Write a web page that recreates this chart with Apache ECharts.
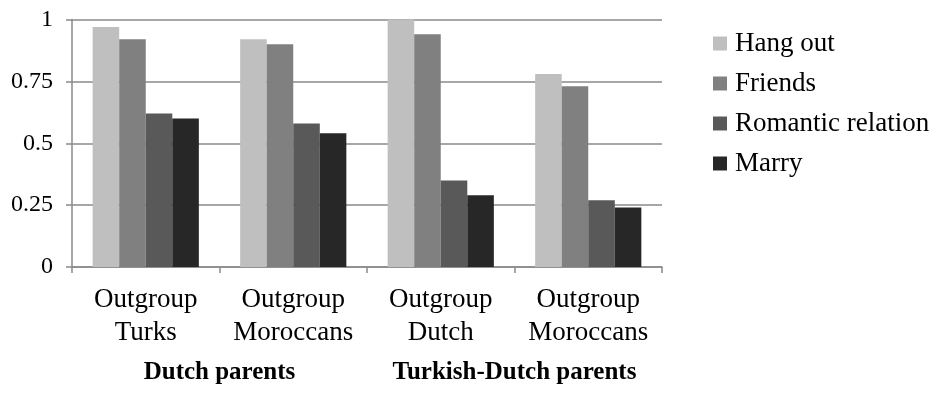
<!DOCTYPE html>
<html>
<head>
<meta charset="utf-8">
<script src="https://cdn.jsdelivr.net/npm/echarts@6/dist/echarts.min.js"></script>
<style>
  html, body { margin: 0; padding: 0; background: #fff; }
  #chart { width: 935px; height: 395px; }
</style>
</head>
<body>
<div id="chart"></div>
<script>
// Outgroup categories, grouped by parent background
const categories = ['Outgroup\nTurks', 'Outgroup\nMoroccans', 'Outgroup\nDutch', 'Outgroup\nMoroccans'];
const parentGroups = ['Dutch parents', 'Turkish-Dutch parents'];

const seriesNames = ['Hang out', 'Friends', 'Romantic relation', 'Marry'];
const hangOut = [0.97, 0.92, 1.00, 0.78];
const friends = [0.92, 0.90, 0.94, 0.73];
const romantic = [0.62, 0.58, 0.35, 0.27];
const marry = [0.60, 0.54, 0.29, 0.24];
const seriesValues = [hangOut, friends, romantic, marry];
const seriesColors = ['#bfbfbf', '#808080', '#595959', '#272727'];

const yTicks = [0, 0.25, 0.5, 0.75, 1];

const font = '"Liberation Serif", "Times New Roman", serif';
const gridColor = '#8a8a8a';

const chart = echarts.init(document.getElementById('chart'), null, { renderer: 'canvas' });

chart.setOption({
  animation: false,
  backgroundColor: '#ffffff',
  textStyle: { fontFamily: font, color: '#000' },
  grid: { left: 72, right: 273, top: 19.5, bottom: 128 },
  legend: {
    orient: 'vertical',
    left: 708,
    top: 25,
    itemWidth: 14,
    itemHeight: 14,
    itemGap: 13,
    icon: 'rect',
    textStyle: { fontFamily: font, fontSize: 27, color: '#000', padding: [0, 0, 0, 3] },
    data: seriesNames
  },
  xAxis: [
    {
      type: 'category',
      data: categories,
      position: 'bottom',
      axisLine: { show: true, lineStyle: { color: gridColor, width: 1.5 } },
      axisTick: { show: true, length: 6, lineStyle: { color: gridColor, width: 1.5 } },
      axisLabel: {
        fontFamily: font, fontSize: 27, color: '#000',
        lineHeight: 33, margin: 16, interval: 0
      }
    },
    {
      type: 'category',
      data: parentGroups,
      position: 'bottom',
      offset: 85,
      axisLine: { show: false },
      axisTick: { show: false },
      axisLabel: {
        fontFamily: font, fontSize: 25, fontWeight: 'bold', color: '#000', interval: 0
      }
    }
  ],
  yAxis: {
    type: 'value',
    min: 0,
    max: 1,
    interval: 0.25,
    axisLine: { show: true, lineStyle: { color: gridColor, width: 1.5 } },
    axisTick: { show: true, length: 6, lineStyle: { color: gridColor, width: 1.5 } },
    splitLine: { show: true, lineStyle: { color: gridColor, width: 1.5 } },
    axisLabel: {
      fontFamily: font, fontSize: 24, color: '#000', margin: 19,
      formatter: v => {
        const t = yTicks.find(x => Math.abs(x - v) < 1e-9);
        return t === undefined ? '' : String(t);
      }
    }
  },
  series: seriesNames.map((name, i) => ({
    name,
    type: 'bar',
    xAxisIndex: 0,
    data: seriesValues[i],
    barGap: '0%',
    barCategoryGap: '28%',
    itemStyle: { color: seriesColors[i] }
  }))
});
</script>
</body>
</html>
